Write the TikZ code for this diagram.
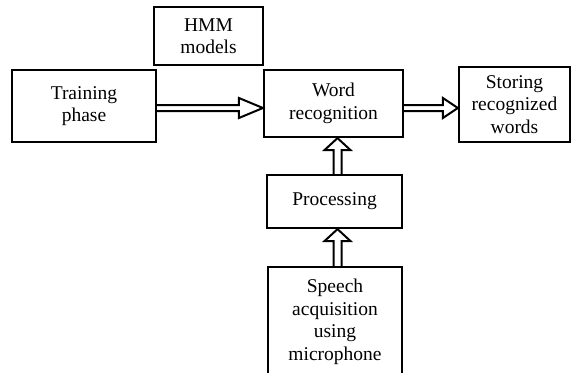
\documentclass[tikz,border=0pt]{standalone}
\usepackage{fontspec}
\setmainfont{Liberation Serif}
\usetikzlibrary{calc}
\tikzset{
  box/.style={draw, line width=2.2pt, inner sep=0pt, align=center,
    font=\fontsize{19.5}{22.5}\selectfont},
  conn/.style={draw, line width=2pt, line join=miter}
}
\begin{document}
\begin{tikzpicture}[x=1pt,y=-1pt]
\useasboundingbox (0,0) rectangle (572,372);
\clip (0,0) rectangle (572,372);
\node[box, minimum width=109pt, minimum height=58pt] (hmm) at (208.5,36) {HMM\\models};
\node[box, minimum width=144pt, minimum height=72pt] (train) at (84,106) {Training\\phase};
\node[box, minimum width=139pt, minimum height=67pt] (word) at (333.5,103.5) {Word\\recognition};
\node[box, minimum width=111pt, minimum height=75pt] (store) at (514.5,104.5) {Storing\\recognized\\words};
\node[box, minimum width=135pt, minimum height=53pt] (proc) at (334.5,201.5) {Processing};
\node[box, minimum width=134pt, minimum height=110pt] (speech) at (335,322) {Speech\\acquisition\\using\\microphone};
% horizontal double arrows
\draw[conn] let \p1=(train.east), \p2=(word.west) in
  (\x1,-105pt) -- (\x2-24pt,-105pt) -- (\x2-24pt,-98pt) -- (\x2,-108pt)
  -- (\x2-24pt,-118pt) -- (\x2-24pt,-111pt) -- (\x1,-111pt);
\draw[conn] let \p1=(word.east), \p2=(store.west) in
  (\x1,-105pt) -- (\x2-15pt,-105pt) -- (\x2-15pt,-98pt) -- (\x2,-108pt)
  -- (\x2-15pt,-118pt) -- (\x2-15pt,-111pt) -- (\x1,-111pt);
% vertical double arrows
\draw[conn] let \p1=(proc.north), \p2=(word.south) in
  (333.5pt,\y1) -- (333.5pt,\y2-12pt) -- (324.5pt,\y2-12pt) -- (337.5pt,\y2)
  -- (350.5pt,\y2-12pt) -- (341.5pt,\y2-12pt) -- (341.5pt,\y1);
\draw[conn] let \p1=(speech.north), \p2=(proc.south) in
  (333.5pt,\y1) -- (333.5pt,\y2-12pt) -- (324.5pt,\y2-12pt) -- (337.5pt,\y2)
  -- (350.5pt,\y2-12pt) -- (341.5pt,\y2-12pt) -- (341.5pt,\y1);
\end{tikzpicture}
\end{document}
